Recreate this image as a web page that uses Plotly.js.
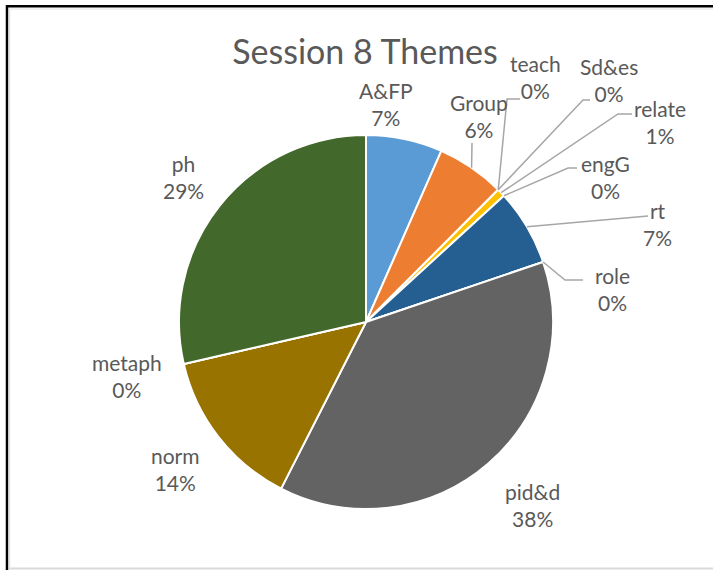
<!DOCTYPE html>
<html><head><meta charset="utf-8">
<script src="https://cdn.plot.ly/plotly-3.0.1.min.js"></script>
<style>html,body{margin:0;padding:0;background:#fff;}#chart{width:713px;height:570px;}</style>
</head><body><div id="chart"></div>
<script>
// ---- data ----
const labels = ['A&FP','Group','teach','Sd&es','relate','engG','rt','role','pid&d','norm','metaph','ph'];
const values = [6.6, 5.9, 0, 0, 0.7, 0, 6.6, 0, 37.7, 13.9, 0, 28.6];
const titleText = 'Session 8 Themes';

// ---- styles / placement ----
const colors = ['#5B9BD5','#ED7D31','#A5A5A5','#4472C4','#FFC000','#70AD47','#255E91','#9E480E','#636363','#997300','#264478','#43682B'];
const W = 713, H = 570;
const CX = 366, CY = 322, R = 187;          // pie centre / radius in px
// label block centres (px)
const labelPos = {
  'A&FP':[386,104], 'Group':[479,116], 'teach':[535,77], 'Sd&es':[609,80],
  'relate':[660,122], 'engG':[605,177], 'rt':[657,224], 'role':[612,289],
  'pid&d':[532,505], 'norm':[175,469], 'metaph':[127,376], 'ph':[183,177]
};
// leader-line points near the label (px); final point is computed on the pie edge
const leaderPts = {
  'Group':[[472,143]],
  'teach':[[520,99],[507,99]],
  'Sd&es':[[590,100],[583,100]],
  'relate':[[632,114],[618,114]],
  'engG':[[577,168],[568,168]],
  'rt':[[648,216]],
  'role':[[583,280],[565,280]]
};
const textColor = '#595959';
const font = 'Lato, "Open Sans", sans-serif';

const px = x => x / W;
const py = y => 1 - y / H;

const total = values.reduce((a,b)=>a+b,0);
let cum = 0;
const annotations = [];
const shapes = [];
labels.forEach((lab,i) => {
  const v = values[i];
  const mid = (cum + v/2) / total;
  cum += v;
  const pct = Math.round(v / total * 100) + '%';
  const p = labelPos[lab];
  annotations.push({
    x: px(p[0]), y: py(p[1]), xref:'paper', yref:'paper',
    xanchor:'center', yanchor:'middle', showarrow:false,
    text: lab.replace(/&/g,'&amp;') + '<br>' + pct,
    font:{family:font, size:21, color:textColor}
  });
  if (leaderPts[lab]) {
    const th = mid * 2 * Math.PI;
    const ex = CX + R * Math.sin(th), ey = CY - R * Math.cos(th);
    const pts = leaderPts[lab].concat([[ex, ey]]);
    const path = pts.map((q,k) => (k ? 'L' : 'M') + px(q[0]).toFixed(5) + ',' + py(q[1]).toFixed(5)).join(' ');
    shapes.push({type:'path', xref:'paper', yref:'paper', path:path,
      line:{color:'#A6A6A6', width:1.5}});
  }
});

// frame
shapes.push({type:'line', xref:'paper', yref:'paper', x0:px(6), x1:1, y0:py(6.3), y1:py(6.3), line:{color:'#000', width:2.5}});
shapes.push({type:'line', xref:'paper', yref:'paper', x0:px(7), x1:px(7), y0:py(5), y1:0, line:{color:'#000', width:2.5}});
shapes.push({type:'line', xref:'paper', yref:'paper', x0:px(9.5), x1:px(9.5), y0:py(9), y1:py(567), line:{color:'#E4E4E4', width:1.5}});
shapes.push({type:'line', xref:'paper', yref:'paper', x0:px(9), x1:1, y0:py(9), y1:py(9), line:{color:'#EDEDED', width:1.5}});
shapes.push({type:'line', xref:'paper', yref:'paper', x0:px(9), x1:1, y0:py(568.5), y1:py(568.5), line:{color:'#DADADA', width:2}});

const trace = {
  type:'pie', labels:labels, values:values, sort:false, direction:'clockwise', rotation:0,
  marker:{colors:colors, line:{color:'#FFFFFF', width:2}},
  textinfo:'none', hoverinfo:'none', showlegend:false,
  domain:{x:[(CX-R)/W,(CX+R)/W], y:[(H-CY-R)/H,(H-CY+R)/H]}
};

const layout = {
  width:W, height:H, margin:{l:0,r:0,t:0,b:0},
  paper_bgcolor:'#FFFFFF', showlegend:false,
  title:{text:titleText, x:365/W, xanchor:'center', xref:'paper', y:1-52/H, yanchor:'middle', yref:'container',
    font:{family:font, size:34, color:textColor}},
  annotations:annotations, shapes:shapes
};
Plotly.newPlot('chart',[trace],layout,{displayModeBar:false, staticPlot:true});
</script></body></html>
